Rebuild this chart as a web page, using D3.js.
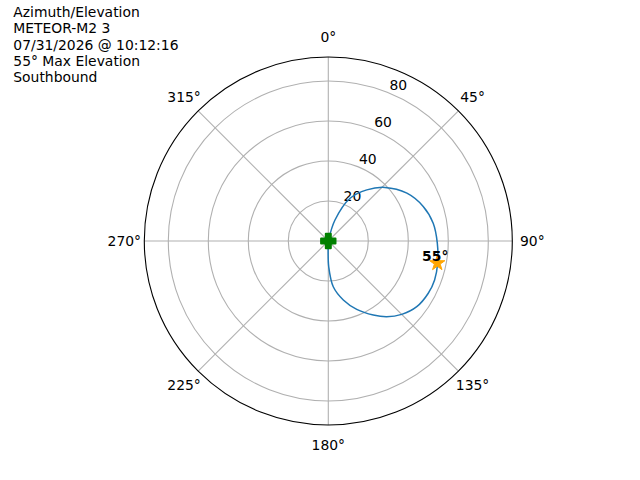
<!DOCTYPE html>
<html>
<head>
<meta charset="utf-8">
<script src="https://cdn.jsdelivr.net/npm/d3@7"></script>
<style>
  body { margin: 0; background: #fff; }
  text { font-family: "DejaVu Sans", sans-serif; font-size: 13.9px; fill: #000; }
</style>
</head>
<body>
<svg id="chart" width="640" height="480"></svg>
<script>
// pass track (azimuth deg, elevation deg)
const azimuth = [10, 17.7, 27, 37, 46.6, 58.7, 70, 80.4, 91, 101.5, 110.1, 117.6, 126.6, 135, 142.4, 148.7, 157.4, 165.7, 173.8, 179, 181, 182];
const elevation = [0, 11, 24, 32, 39, 46, 50.5, 53.2, 54.5, 55.8, 56.6, 56.4, 55.1, 51.9, 47.8, 43.3, 37, 30.4, 23, 13, 5, 0];

const maxPoint = [101.5, 55.6];
const maxLabel = '55°';

const radialTicks = [20, 40, 60, 80];
const angleTicks = [0, 45, 90, 135, 180, 225, 270, 315];

const titleLines = [
  'Azimuth/Elevation',
  'METEOR-M2 3',
  '07/31/2026 @ 10:12:16',
  '55° Max Elevation',
  'Southbound'
];

const svg = d3.select('#chart');
const cx = 328.3, cy = 241;
const outerR = 184;
const rad = (deg) => deg * Math.PI / 180;

const r = d3.scaleLinear().domain([0, 92]).range([0, outerR]);

const g = svg.append('g').attr('transform', `translate(${cx},${cy})`);

// grid
const grid = g.append('g');
grid.selectAll('circle.ring')
  .data(radialTicks)
  .join('circle')
    .attr('r', (d) => r(d))
    .attr('fill', 'none')
    .attr('stroke', '#b0b0b0')
    .attr('stroke-width', 1.1);

grid.selectAll('line.spoke')
  .data(angleTicks)
  .join('line')
    .attr('x1', 0).attr('y1', 0)
    .attr('x2', (d) => outerR * Math.sin(rad(d)))
    .attr('y2', (d) => -outerR * Math.cos(rad(d)))
    .attr('stroke', '#b0b0b0')
    .attr('stroke-width', 1.1);

g.append('circle')
  .attr('r', outerR)
  .attr('fill', 'none')
  .attr('stroke', '#000')
  .attr('stroke-width', 1.1);

// angle labels
g.selectAll('text.angle')
  .data(angleTicks)
  .join('text')
    .attr('x', (d) => (outerR + 20) * Math.sin(rad(d)))
    .attr('y', (d) => -(outerR + 20) * Math.cos(rad(d)))
    .attr('text-anchor', 'middle')
    .attr('dominant-baseline', 'central')
    .text((d) => `${d}°`);

// radial labels at 22.5 deg, left/bottom aligned
g.selectAll('text.radial')
  .data(radialTicks)
  .join('text')
    .attr('x', (d) => r(d) * Math.sin(rad(22.5)))
    .attr('y', (d) => -r(d) * Math.cos(rad(22.5)) - 3.3)
    .attr('text-anchor', 'start')
    .text((d) => d);

// pass track
const track = azimuth.map((a, i) => [rad(a), r(elevation[i])]);
const line = d3.lineRadial()
  .angle((d) => d[0])
  .radius((d) => d[1])
  .curve(d3.curveCatmullRom.alpha(0.5));

g.append('path')
  .attr('d', line(track))
  .attr('fill', 'none')
  .attr('stroke', '#1f77b4')
  .attr('stroke-width', 1.5)
  .attr('stroke-linejoin', 'round');

// start marker (filled plus)
const p = 7.2, w = 2.5;
const plusPath = `M${-w},${-p}H${w}V${-w}H${p}V${w}H${w}V${p}H${-w}V${w}H${-p}V${-w}H${-w}Z`;
g.append('path')
  .attr('d', plusPath)
  .attr('fill', 'green')
  .attr('stroke', 'green')
  .attr('stroke-width', 2)
  .attr('stroke-linejoin', 'round');

// max elevation star
const mx = r(maxPoint[1]) * Math.sin(rad(maxPoint[0]));
const my = -r(maxPoint[1]) * Math.cos(rad(maxPoint[0]));
const starPts = d3.range(10).map((i) => {
  const rr = i % 2 === 0 ? 8 : 8 * 0.382;
  const a = i * Math.PI / 5;
  return [rr * Math.sin(a), -rr * Math.cos(a)];
});
g.append('path')
  .attr('transform', `translate(${mx},${my})`)
  .attr('d', 'M' + starPts.join('L') + 'Z')
  .attr('fill', 'orange')
  .attr('stroke', 'orange')
  .attr('stroke-width', 1)
  .attr('stroke-linejoin', 'miter');

g.append('text')
  .attr('x', mx - 2)
  .attr('y', my - 2.5)
  .attr('text-anchor', 'middle')
  .style('font-weight', 'bold')
  .text(maxLabel);

// title block
svg.append('text')
  .attr('x', 13.3)
  .attr('y', 17.3)
  .selectAll('tspan')
  .data(titleLines)
  .join('tspan')
    .attr('x', 13.3)
    .attr('dy', (d, i) => i === 0 ? 0 : 16.1)
    .text((d) => d);
</script>
</body>
</html>
